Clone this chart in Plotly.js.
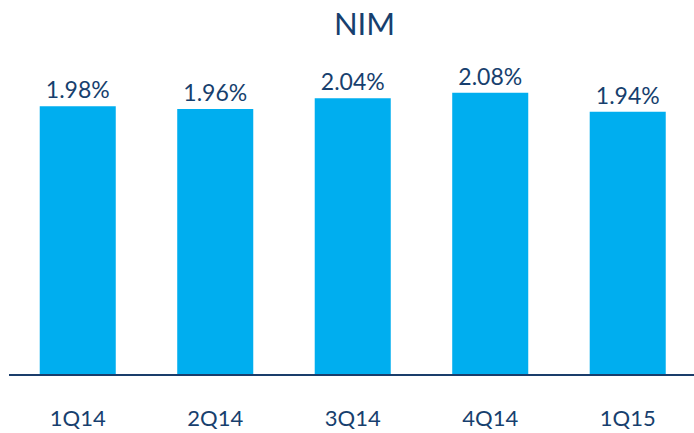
<!DOCTYPE html>
<html>
<head>
<meta charset="utf-8">
<script src="https://cdn.plot.ly/plotly-3.0.1.min.js"></script>
<style>html,body{margin:0;padding:0;background:#fff}#chart{width:694px;height:433px}</style>
</head>
<body>
<div id="chart"></div>
<script>
const quarters = ["1Q14", "2Q14", "3Q14", "4Q14", "1Q15"];
const nimValues = [1.98, 1.96, 2.04, 2.08, 1.94];
const nimLabels = ["1.98%", "1.96%", "2.04%", "2.08%", "1.94%"];

const navy = "#173F6E";
const trace = {
  type: "bar",
  x: quarters,
  y: nimValues,
  text: nimLabels,
  textposition: "outside",
  textfont: {family: "Lato, sans-serif", size: 23, color: navy},
  marker: {color: "#00AEEF"},
  width: 0.553,
  cliponaxis: false,
  hoverinfo: "none"
};

const layout = {
  width: 694,
  height: 433,
  margin: {l: 9, r: 0, t: 37, b: 59},
  paper_bgcolor: "#ffffff",
  plot_bgcolor: "#ffffff",
  showlegend: false,
  title: {
    text: "NIM",
    font: {family: "Lato, sans-serif", size: 31, color: navy},
    x: 0.519, xanchor: "center", xref: "paper",
    y: 0.97, yanchor: "top", yref: "container"
  },
  xaxis: {
    type: "category",
    range: [-0.5, 4.482],
    showline: true,
    linecolor: "#1A3D6B",
    linewidth: 2,
    ticks: "",
    ticklabelstandoff: 24,
    tickfont: {family: "Lato, sans-serif", size: 22, color: navy},
    showgrid: false,
    zeroline: false
  },
  yaxis: {
    range: [0, 2.493],
    visible: false,
    showgrid: false,
    zeroline: false
  }
};

Plotly.newPlot("chart", [trace], layout, {displayModeBar: false, staticPlot: true});
</script>
</body>
</html>
